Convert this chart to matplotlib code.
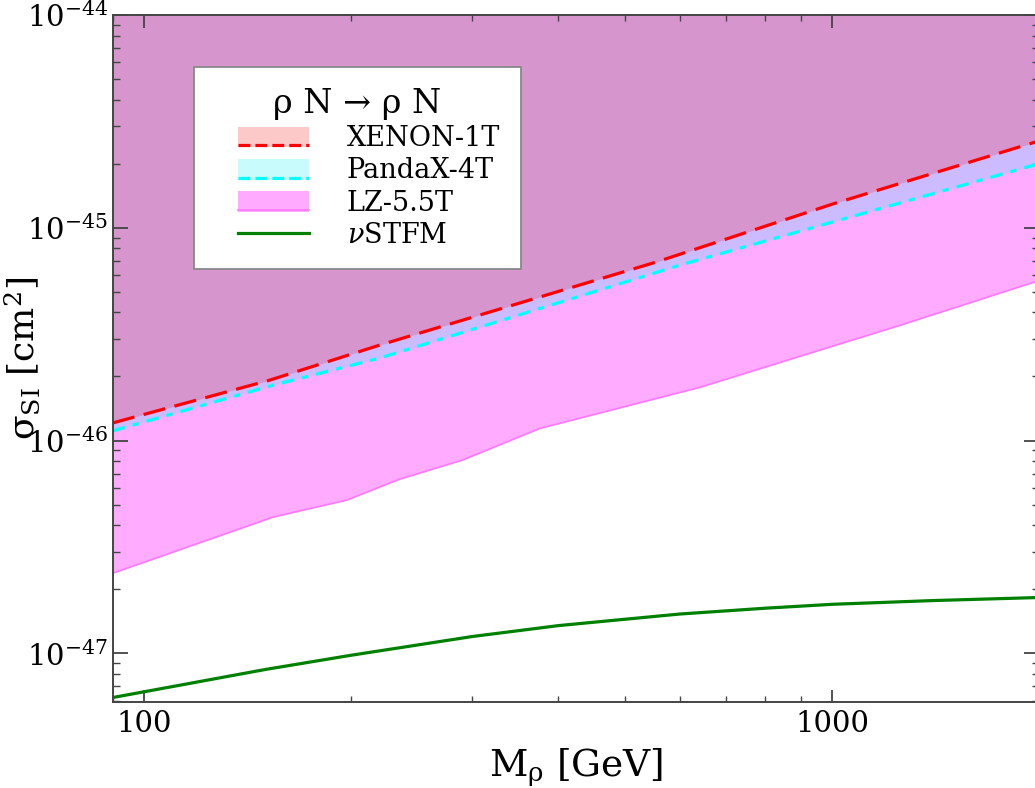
import numpy as np
import matplotlib
matplotlib.use('Agg')
import matplotlib.pyplot as plt
from matplotlib.patches import Rectangle
from matplotlib.lines import Line2D
from matplotlib.ticker import FormatStrFormatter, NullFormatter

plt.rcParams['font.family'] = ['DejaVu Serif']
plt.rcParams['mathtext.fontset'] = 'dejavuserif'

# direct detection limits, sigma_SI [cm^2] vs M_rho [GeV]
xenon_m = [90, 152, 220, 555, 1000, 2000]
xenon_sig = [1.21e-46, 1.92e-46, 2.81e-46, 6.90e-46, 1.29e-45, 2.56e-45]

panda_m = [90, 154, 220, 601, 2000]
panda_sig = [1.11e-46, 1.82e-46, 2.44e-46, 6.67e-46, 2.0e-45]

lz_m = [90, 154, 197, 235, 290, 376, 643, 960, 1256, 2000]
lz_sig = [2.38e-47, 4.37e-47, 5.25e-47, 6.58e-47, 8.09e-47, 1.14e-46,
          1.78e-46, 2.66e-46, 3.48e-46, 5.65e-46]

# neutrino floor
nu_m = [90, 100, 150, 200, 300, 400, 600, 800, 1000, 1400, 2000]
nu_sig = [6.2e-48, 6.6e-48, 8.4e-48, 9.8e-48, 1.2e-47, 1.35e-47, 1.53e-47,
          1.63e-47, 1.70e-47, 1.77e-47, 1.83e-47]

y_top = 1e-44


class BandHandler:
    """legend entry: shaded box with the limit line along its bottom"""
    def __init__(self, face=None):
        self.face = face

    def legend_artist(self, legend, orig_handle, fontsize, handlebox):
        x0, y0 = handlebox.xdescent, handlebox.ydescent
        w, h = handlebox.width, handlebox.height
        tr = handlebox.get_transform()
        xs = x0 + 0.25 * w
        ln_y = y0 if self.face else y0 + 0.5 * h
        ln = Line2D([xs, x0 + w], [ln_y, ln_y], color=orig_handle.get_color(),
                    linestyle=orig_handle.get_linestyle(),
                    linewidth=orig_handle.get_linewidth(), transform=tr)
        if self.face:
            rect = Rectangle((xs, y0 - 0.1 * h), 0.75 * w, h * 1.05,
                             facecolor=self.face, edgecolor='none', transform=tr)
            handlebox.add_artist(rect)
        handlebox.add_artist(ln)
        return ln


fig = plt.figure(figsize=(10.35, 7.88), dpi=100)
ax = fig.add_axes([0.109, 0.109, 1.004 - 0.109, 0.981 - 0.109])

ax.fill_between(lz_m, lz_sig, y_top, color='magenta', alpha=0.33, lw=0)
ax.fill_between(panda_m, panda_sig, y_top, color='cyan', alpha=0.2, lw=0)
ax.fill_between(xenon_m, xenon_sig, y_top, color='red', alpha=0.2, lw=0)

l_lz, = ax.plot(lz_m, lz_sig, color='#ff77ff', lw=1.2)
l_xe, = ax.plot(xenon_m, xenon_sig, color='red', lw=2.3, linestyle=(0, (7, 3)))
l_pa, = ax.plot(panda_m, panda_sig, color='cyan', lw=2.3, linestyle=(0, (4, 2.5, 2, 2.5)))
l_nu, = ax.plot(nu_m, nu_sig, color='green', lw=2.3)

ax.set_xscale('log')
ax.set_yscale('log')
ax.set_xlim(90, 2000)
ax.set_ylim(5.9e-48, 1e-44)
ax.xaxis.set_major_formatter(FormatStrFormatter('%d'))
ax.xaxis.set_minor_formatter(NullFormatter())

for s in ax.spines.values():
    s.set_color('#444444')
    s.set_linewidth(1.4)
ax.tick_params(which='both', direction='in', top=True, right=True, color='#444444',
               labelsize=21)
ax.tick_params(axis='y', which='major', length=11, width=1.3)
ax.tick_params(axis='y', which='minor', length=5, width=1.0)
ax.tick_params(axis='x', which='major', length=9, width=1.3, pad=6)
ax.tick_params(axis='x', which='minor', length=4, width=1.0)

ax.set_xlabel(r'M$_\mathrm{ρ}$ [GeV]', fontsize=27, labelpad=6)
ax.set_ylabel(r'σ$_{\rm SI}$ [cm$^2$]', fontsize=26, labelpad=-11)

leg = ax.legend([l_xe, l_pa, l_lz, l_nu],
                ['XENON-1T', 'PandaX-4T', 'LZ-5.5T', r'$\nu$STFM'],
                handler_map={l_xe: BandHandler('#fcc8c8'),
                             l_pa: BandHandler('#c8fcfc'),
                             l_lz: BandHandler('#ffaaff'),
                             l_nu: BandHandler()},
                title='ρ N → ρ N',
                loc='upper left', bbox_to_anchor=(0.0875, 0.924),
                borderaxespad=0, fontsize=19.5, title_fontsize=24,
                fancybox=False, framealpha=1, edgecolor='#888888',
                handlelength=3.5, handletextpad=1.4, labelspacing=0.2,
                borderpad=0.75, handleheight=0.75)
leg.get_frame().set_linewidth(1.3)

fig.savefig('out.png', dpi=100)
